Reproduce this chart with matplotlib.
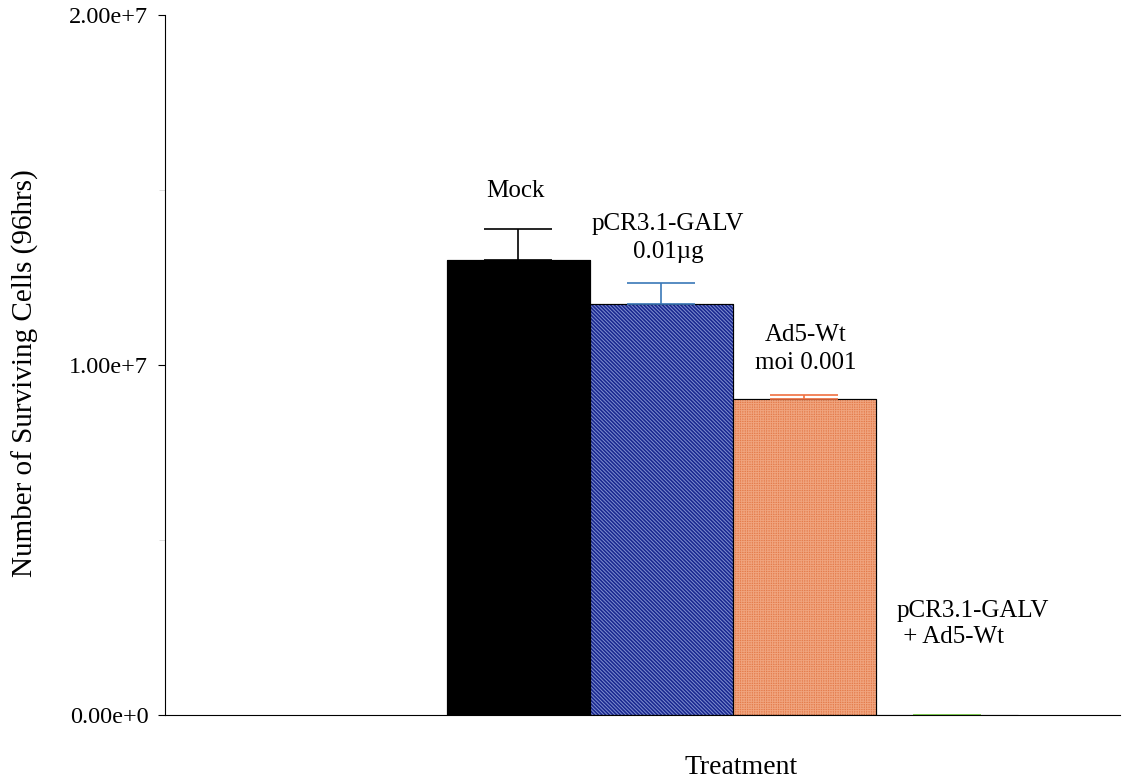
import numpy as np
import matplotlib.pyplot as plt

# data
groups = ['Mock', 'pCR3.1-GALV\n0.01\u00b5g', 'Ad5-Wt\nmoi 0.001', 'pCR3.1-GALV\n + Ad5-Wt']
values = [1.30e7, 1.175e7, 0.903e7, 0.0]
errors = [0.09e7, 0.06e7, 0.01e7, 0.0]
face_colors = ['#000000', '#1a2890', '#e47c4c', '#ffffff']
hatch_colors = [None, '#8090d0', '#f0a47e', None]
hatches = [None, '\\' * 9, '+' * 7, None]
err_colors = ['#000000', '#3a78b8', '#f07040', '#80d050']

plt.rcParams['font.family'] = ['Liberation Serif', 'DejaVu Serif']
plt.rcParams['hatch.linewidth'] = 0.7

fig = plt.figure(figsize=(11.32, 7.81), dpi=100)
ax = fig.add_axes([165 / 1132, 66 / 781, 955 / 1132, 700 / 781])

x = np.arange(len(values))
ax.bar(x, values, width=1.0, color=face_colors, edgecolor='black', linewidth=0.8)
for i in range(len(values)):
    if hatches[i]:
        ax.bar(x[i], values[i], width=1.0, facecolor='none', edgecolor=hatch_colors[i],
               linewidth=0, hatch=hatches[i])
    ax.errorbar(x[i], values[i], yerr=[[0], [errors[i]]], fmt='none', ecolor=err_colors[i],
                elinewidth=1.2, capsize=24.5, capthick=1.2)
# redraw outlines on top
ax.bar(x[:3], values[:3], width=1.0, facecolor='none', edgecolor='black', linewidth=0.8)

ax.set_xlim(-2.47, 4.21)
ax.set_ylim(0, 2.0e7)
ax.set_yticks([0, 1e7, 2e7])
ax.set_yticks([5e6, 1.5e7], minor=True)
ax.set_yticklabels(['0.00e+0', '1.00e+7', '2.00e+7'], fontsize=17.5)
ax.set_xticks([])
ax.spines['top'].set_visible(False)
ax.spines['right'].set_visible(False)
ax.tick_params(axis='y', direction='out', length=5, width=0.8, pad=7)
ax.tick_params(axis='y', which='minor', direction='out', length=4, width=0.6, color='#d8d8d8')

# labels above bars
ax.text(-0.02, 1.497e7, groups[0], ha='center', va='center', fontsize=18)
ax.text(1.05, 1.363e7, groups[1], ha='center', va='center', fontsize=18, linespacing=1.4)
ax.text(2.01, 1.046e7, groups[2], ha='center', va='center', fontsize=18, linespacing=1.4)
ax.text(2.647, 0.259e7, groups[3], ha='left', va='center', fontsize=18, linespacing=1.25)

ax.set_ylabel('Number of Surviving Cells (96hrs)', fontsize=21)
ax.yaxis.set_label_coords(-0.132, 0.489)
fig.text(741 / 1132, 1 - 767 / 781, 'Treatment', ha='center', va='center', fontsize=20)

fig.savefig('out.png', dpi=100)
